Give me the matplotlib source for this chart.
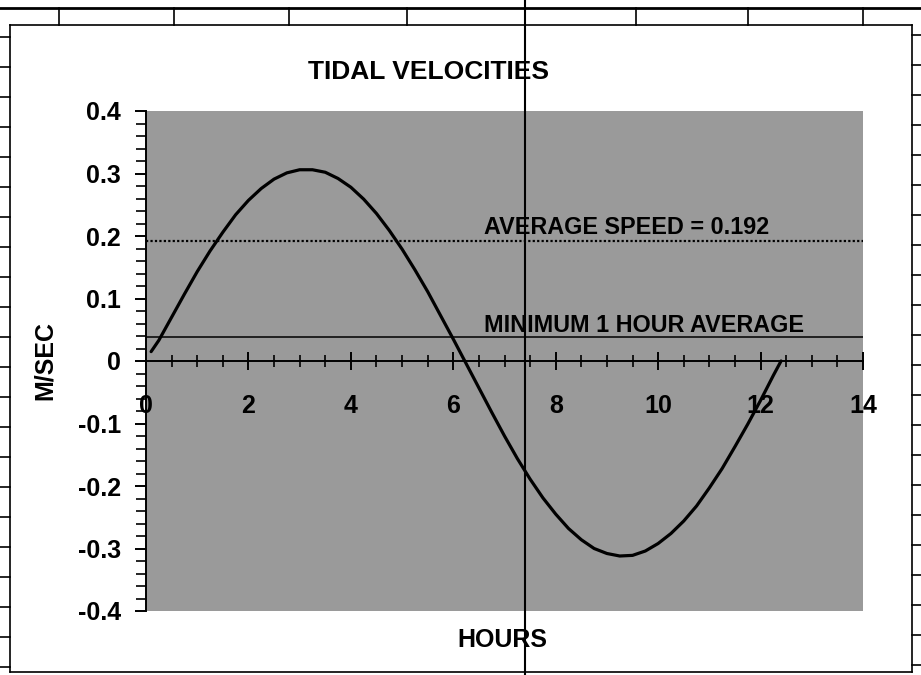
import matplotlib
matplotlib.use("Agg")
import matplotlib.pyplot as plt
from matplotlib.lines import Line2D
from matplotlib.ticker import MultipleLocator

# data (quarter-hour readings)
hours = [0.1, 0.25, 0.5, 0.75, 1.0, 1.25, 1.5, 1.75, 2.0, 2.25, 2.5, 2.75,
         3.0, 3.25, 3.5, 3.75, 4.0, 4.25, 4.5, 4.75, 5.0, 5.25, 5.5, 5.75,
         6.0, 6.25, 6.5, 6.75, 7.0, 7.25, 7.5, 7.75, 8.0, 8.25, 8.5, 8.75,
         9.0, 9.25, 9.5, 9.75, 10.0, 10.25, 10.5, 10.75, 11.0, 11.25, 11.5,
         11.75, 12.0, 12.25, 12.4]
velocity = [0.015, 0.033, 0.070, 0.107, 0.143, 0.176, 0.206, 0.234, 0.257,
            0.276, 0.291, 0.301, 0.306, 0.306, 0.302, 0.292, 0.278, 0.259,
            0.236, 0.209, 0.179, 0.146, 0.111, 0.073, 0.035, -0.004, -0.043,
            -0.082, -0.120, -0.156, -0.189, -0.219, -0.245, -0.268, -0.286,
            -0.300, -0.308, -0.312, -0.311, -0.304, -0.292, -0.276, -0.256,
            -0.232, -0.203, -0.172, -0.137, -0.101, -0.063, -0.023, 0.0]
average_speed = 0.192
min_hour_average = 0.038
x_ticks = [0, 2, 4, 6, 8, 10, 12, 14]
y_ticks = [-0.4, -0.3, -0.2, -0.1, 0, 0.1, 0.2, 0.3, 0.4]
y_tick_labels = ["-0.4", "-0.3", "-0.2", "-0.1", "0", "0.1", "0.2", "0.3", "0.4"]

plt.rcParams["font.family"] = ["Liberation Sans", "DejaVu Sans"]

fig = plt.figure(figsize=(9.21, 6.75), dpi=100)
W, H = 921, 675

def fx(px):
    return px / W

def fy(py):
    return 1 - py / H

# spreadsheet grid peeking out behind the chart object
def fig_line(x0, y0, x1, y1, lw=1.2):
    fig.add_artist(Line2D([fx(x0), fx(x1)], [fy(y0), fy(y1)], color="black",
                          lw=lw, transform=fig.transFigure))

fig_line(0, 8, W, 8, lw=2)
for cx in [59, 174, 289, 407, 636, 748, 863]:
    fig_line(cx, 8, cx, 25)
for ry in range(37, 675, 30):
    fig_line(0, ry, 10, ry)
for ry in range(35, 675, 30):
    fig_line(912, ry, W, ry)
# chart box
fig_line(10, 25, 912, 25)
fig_line(10, 25, 10, 672)
fig_line(912, 25, 912, 672)
fig_line(10, 672, 912, 672)

ax = fig.add_axes([fx(146), fy(611), fx(863 - 146), (611 - 111) / H])
ax.set_facecolor("#9a9a9a")

ax.plot(hours, velocity, color="black", lw=2.3, solid_capstyle="round")
ax.axhline(average_speed, color="black", lw=1.6, ls=(0, (1, 1)))
ax.axhline(min_hour_average, color="black", lw=1.1)

ax.text(6.6, average_speed + 0.003, "AVERAGE SPEED = 0.192", fontsize=16.8,
        fontweight="bold", va="bottom", ha="left")
ax.text(6.6, min_hour_average + 0.001, "MINIMUM 1 HOUR AVERAGE", fontsize=16.8,
        fontweight="bold", va="bottom", ha="left")

ax.set_xlim(0, 14)
ax.set_ylim(-0.4, 0.4)

for s in ["top", "right"]:
    ax.spines[s].set_visible(False)
ax.spines["bottom"].set_position(("data", 0))
ax.spines["left"].set_linewidth(1.4)
ax.spines["bottom"].set_linewidth(1.4)

ax.set_xticks(x_ticks)
ax.set_xticklabels([str(t) for t in x_ticks], fontsize=18, fontweight="bold")
ax.xaxis.set_minor_locator(MultipleLocator(0.5))
ax.tick_params(axis="x", which="major", direction="inout", length=13, width=1.4, pad=17)
ax.tick_params(axis="x", which="minor", direction="inout", length=9, width=1.2)
for lab in ax.get_xticklabels():
    lab.set_x(lab.get_position()[0])

ax.set_yticks(y_ticks)
ax.set_yticklabels(y_tick_labels, fontsize=18, fontweight="bold")
ax.yaxis.set_minor_locator(MultipleLocator(0.02))
ax.tick_params(axis="y", which="major", direction="out", length=8, width=1.4, pad=10)
ax.tick_params(axis="y", which="minor", direction="out", length=7, width=1.2)

fig.text(fx(45), fy(360), "M/SEC", rotation=90, fontsize=18, fontweight="bold",
         ha="center", va="center")
fig.text(fx(502), fy(640), "HOURS", fontsize=18, fontweight="bold",
         ha="center", va="center")
fig.text(fx(428), fy(72), "TIDAL VELOCITIES", fontsize=19, fontweight="bold",
         ha="center", va="center")

# page break line through the scan
fig_line(525, 0, 525, H, lw=1.5)

fig.savefig("out.png", dpi=100)
